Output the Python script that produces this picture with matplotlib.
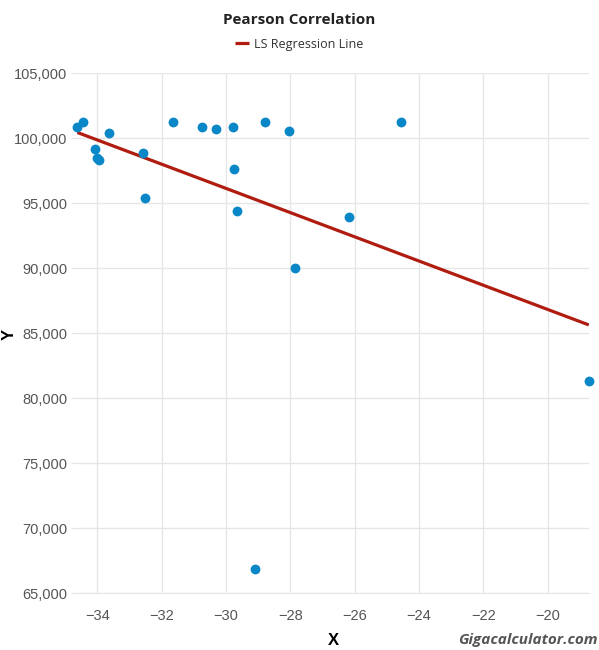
import numpy as np
import matplotlib.pyplot as plt
from matplotlib.ticker import FuncFormatter, MultipleLocator

# data
x = [-34.62, -34.43, -33.64, -34.07, -34.02, -33.93, -32.58, -32.52,
     -31.64, -30.74, -30.30, -29.78, -29.75, -29.65, -29.11, -28.80,
     -28.05, -27.86, -26.17, -24.57, -18.72]
y = [100890, 101230, 100410, 99200, 98480, 98330, 98890, 95430,
     101230, 100870, 100720, 100870, 97640, 94410, 66850, 101230,
     100540, 90050, 93920, 101230, 81350]

x = np.array(x)
y = np.array(y)

# least squares line
slope, intercept = np.polyfit(x, y, 1)
line_x = np.array([x.min(), x.max()])
line_y = slope * line_x + intercept

fig = plt.figure(figsize=(5.99, 6.5), dpi=100)
ax = fig.add_axes([0.129, 0.0872, 0.854, 0.8])

ax.plot(line_x, line_y, color='#b01c10', lw=2.3, zorder=2,
        label='LS Regression Line', solid_capstyle='butt')
ax.scatter(x, y, s=50, color='#0a87c7', zorder=3, clip_on=False,
           linewidths=0)

ax.set_xlim(x.min(), x.max())
ax.set_ylim(65000, 105000)
ax.xaxis.set_major_locator(MultipleLocator(2))
ax.yaxis.set_major_locator(MultipleLocator(5000))
ax.yaxis.set_major_formatter(FuncFormatter(lambda v, p: f'{int(v):,}'))
ax.xaxis.set_major_formatter(FuncFormatter(lambda v, p: f'\u2212{abs(int(v))}' if v < 0 else f'{int(v)}'))

ax.grid(True, color='#e6e6e6', lw=1)
ax.set_axisbelow(True)
for s in ['top', 'right', 'left']:
    ax.spines[s].set_visible(False)
ax.spines['bottom'].set_color('#e6e6e6')
ax.tick_params(axis='x', length=0, pad=11, labelsize=10.5,
               labelcolor='#555555', labelfontfamily='Liberation Sans')
ax.tick_params(axis='y', length=4, color='#e6e6e6', pad=3, labelsize=10.5,
               labelcolor='#555555', labelfontfamily='Liberation Sans')

fig.text(0.5, 0.969, 'Pearson Correlation', ha='center', va='center',
         fontsize=11, fontweight='bold', family='Open Sans', color='#222222')
leg = fig.legend(loc='center', bbox_to_anchor=(0.5, 0.932), frameon=False,
                 fontsize=9, handlelength=1.1, handletextpad=0.4,
                 prop={'family': 'Open Sans', 'size': 9})
for t in leg.get_texts():
    t.set_color('#333333')

fig.text(0.556, 0.015, 'X', ha='center', va='center', fontsize=12,
         fontweight='bold', family='Liberation Sans')
fig.text(0.016, 0.485, 'Y', ha='center', va='center', fontsize=12,
         fontweight='bold', family='Liberation Sans', rotation=90)
fig.text(0.997, 0.015, 'Gigacalculator.com', ha='right', va='center',
         fontsize=11, fontweight='bold', style='italic',
         family='Open Sans', color='#555555')

fig.savefig('out.png', dpi=100)
